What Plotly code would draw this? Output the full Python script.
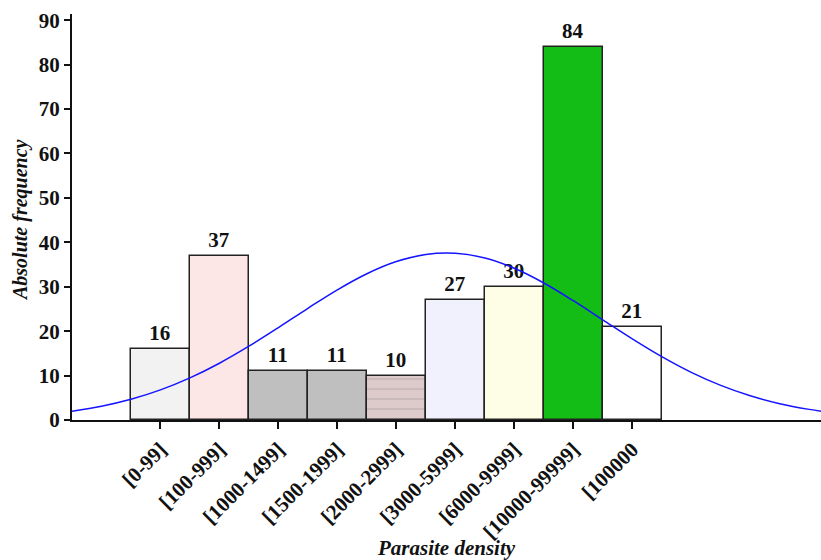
import plotly.graph_objects as go

# Parasite density classes and their absolute frequencies
categories = ["[0-99]", "[100-999]", "[1000-1499]", "[1500-1999]", "[2000-2999]",
              "[3000-5999]", "[6000-9999]", "[10000-99999]", "[100000"]
frequencies = [16, 37, 11, 11, 10, 27, 30, 84, 21]
bar_colors = ["#f2f2f2", "#fde6e6", "#bfbfbf", "#bfbfbf", "#ddcbcb",
              "#f1f1fd", "#fefee7", "#13bd16", "#ffffff"]
bar_patterns = ["", "", "", "", "-", "", "", "", ""]

# Fitted normal curve, sampled along the class axis
curve_x = [-1.5, -1.0, -0.5, 0.0, 0.5, 1.0, 1.5, 2.0, 2.5, 3.0, 3.5, 4.0, 4.5,
           5.0, 5.5, 6.0, 6.5, 7.0, 7.5, 8.0, 8.5, 9.0, 9.5, 10.0, 10.5, 11.0, 11.2]
curve_y = [1.99, 3.11, 4.67, 6.78, 9.48, 12.78, 16.61, 20.81, 25.15, 29.31, 32.93,
           35.67, 37.27, 37.54, 36.46, 34.15, 30.84, 26.85, 22.54, 18.25, 14.25,
           10.72, 7.79, 5.45, 3.68, 2.39, 1.99]

y_ticks = [0, 10, 20, 30, 40, 50, 60, 70, 80, 90]

positions = list(range(len(categories)))
serif = "Liberation Serif"

fig = go.Figure()

fig.add_trace(go.Bar(
    x=positions,
    y=frequencies,
    width=1,
    marker=dict(
        color=bar_colors,
        line=dict(color="#222222", width=1.5),
        pattern=dict(shape=bar_patterns, fgcolor="#d2c1c1", size=10, solidity=0.05),
    ),
    text=[str(v) for v in frequencies],
    textposition="outside",
    cliponaxis=False,
    textfont=dict(family=serif, size=21, color="#111111", weight="bold"),
    showlegend=False,
))

fig.add_trace(go.Scatter(
    x=curve_x,
    y=curve_y,
    mode="lines",
    line=dict(color="#1414ff", width=1.5, shape="spline"),
    showlegend=False,
))

fig.update_layout(
    width=821,
    height=560,
    margin=dict(l=72, r=0, t=14, b=140),
    plot_bgcolor="white",
    paper_bgcolor="white",
    bargap=0,
    xaxis=dict(
        range=[-1.5, 11.2],
        tickmode="array",
        tickvals=positions,
        ticktext=categories,
        tickangle=-45,
        ticks="outside",
        ticklen=7,
        tickwidth=1.5,
        tickcolor="#111111",
        showline=True,
        linecolor="#111111",
        linewidth=2,
        showgrid=False,
        zeroline=False,
        tickfont=dict(family=serif, size=21, color="#111111", weight="bold"),
    ),
    yaxis=dict(
        range=[0, 91.4],
        tickmode="array",
        tickvals=y_ticks,
        ticks="outside",
        ticklen=6,
        tickwidth=1.5,
        tickcolor="#111111",
        showline=True,
        linecolor="#111111",
        linewidth=2,
        showgrid=False,
        zeroline=False,
        tickfont=dict(family=serif, size=21, color="#111111", weight="bold"),
    ),
    annotations=[
        dict(text="Absolute frequency", xref="paper", yref="paper",
             x=-72 / 749 + 21 / 749, y=(420 - 220) / 406, textangle=-90,
             showarrow=False, xanchor="center", yanchor="middle",
             font=dict(family=serif, size=20, color="#111111",
                       weight="bold", style="italic")),
        dict(text="Parasite density", xref="paper", yref="paper",
             x=0.5, y=-(548 - 420) / 406, showarrow=False,
             xanchor="center", yanchor="middle",
             font=dict(family=serif, size=21, color="#111111",
                       weight="bold", style="italic")),
    ],
)

fig.write_html("out.html")
